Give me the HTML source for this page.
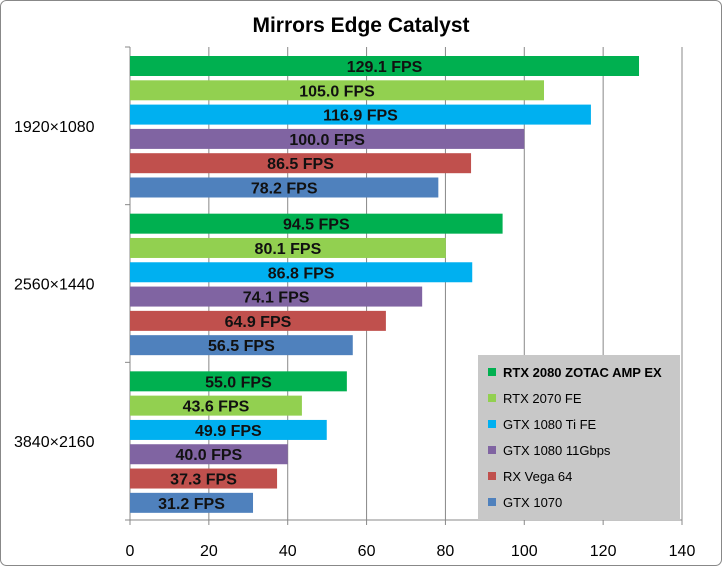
<!DOCTYPE html>
<html><head><meta charset="utf-8"><style>
body{margin:0;background:#fff;}
svg{display:block;font-family:"Liberation Sans",Arial,sans-serif;}
</style></head><body>
<svg width="722" height="566" viewBox="0 0 722 566">
<rect x="0.5" y="0.5" width="721" height="565" rx="6" fill="#fff" stroke="#888"/>
<text x="361" y="32" text-anchor="middle" font-size="21" font-weight="bold">Mirrors Edge Catalyst</text>
<g id="grid"></g>
<g id="bars"></g>
<g id="legend"></g>
</svg>
<script>
const categories=["1920×1080","2560×1440","3840×2160"];
const seriesNames=["RTX 2080 ZOTAC AMP EX","RTX 2070 FE","GTX 1080 Ti FE","GTX 1080 11Gbps","RX Vega 64","GTX 1070"];
const s0=[129.1,94.5,55.0];
const s1=[105.0,80.1,43.6];
const s2=[116.9,86.8,49.9];
const s3=[100.0,74.1,40.0];
const s4=[86.5,64.9,37.3];
const s5=[78.2,56.5,31.2];
const ticks=[0,20,40,60,80,100,120,140];
const series=[s0,s1,s2,s3,s4,s5];
const colors=["#00b050","#92d050","#00b0f0","#8064a2","#c0504d","#4f81bd"];
const NS="http://www.w3.org/2000/svg";
const x0=130,x1=682,yTop=47,yBot=520,xmax=140;
const X=v=>x0+(v/xmax)*(x1-x0);
const gh=(yBot-yTop)/categories.length;
function mk(t,a,p){const e=document.createElementNS(NS,t);for(const k in a)e.setAttribute(k,a[k]);p.appendChild(e);return e;}
const grid=document.getElementById('grid');
ticks.forEach(t=>{
 const l=mk('line',{x1:X(t),x2:X(t),y1:yTop,y2:yBot+5,stroke:'#888','stroke-width':1},grid);
 
 
 const tx=mk('text',{x:X(t),y:556,'text-anchor':'middle','font-size':16},grid);
 tx.textContent=t;
 
 
});
for(let i=0;i<=categories.length;i++){
 const y=yTop+i*gh;
 const l=mk('line',{x1:x0-5,x2:x0,y1:y,y2:y,stroke:'#888'},grid);
 
 
}
const bl=mk('line',{x1:x0,x2:x1,y1:yBot,y2:yBot,stroke:'#888'},grid);


const bars=document.getElementById('bars');
categories.forEach((c,ci)=>{
 const g0=yTop+ci*gh;
 const tl=mk('text',{x:14,y:g0+gh/2+6,'font-size':16},bars);
 tl.textContent=c;
 
 
 series.forEach((s,si)=>{
  const cy=g0+19+si*24.3;
  const r=mk('rect',{x:x0,y:cy-10,width:X(s[ci])-x0,height:20,fill:colors[si]},bars);
  
  
  const t=mk('text',{x:(x0+X(s[ci]))/2,y:cy+6,'text-anchor':'middle','font-size':16,'font-weight':'bold',fill:'#111'},bars);
  t.textContent=s[ci].toFixed(1)+' FPS';
  
  
 });
});
const lg=document.getElementById('legend');
const box=mk('rect',{x:478,y:355,width:202,height:165,fill:'#c8c8c8'},lg);


seriesNames.forEach((n,i)=>{
 const y=372+i*26;
 const sw=mk('rect',{x:488,y:y-4,width:8,height:8,fill:colors[i]},lg);
 
 
 const t=mk('text',{x:503,y:y+5,'font-size':13,'font-weight':i===0?'bold':'normal'},lg);
 t.textContent=n;
 
 
});
</script>
</body></html>
